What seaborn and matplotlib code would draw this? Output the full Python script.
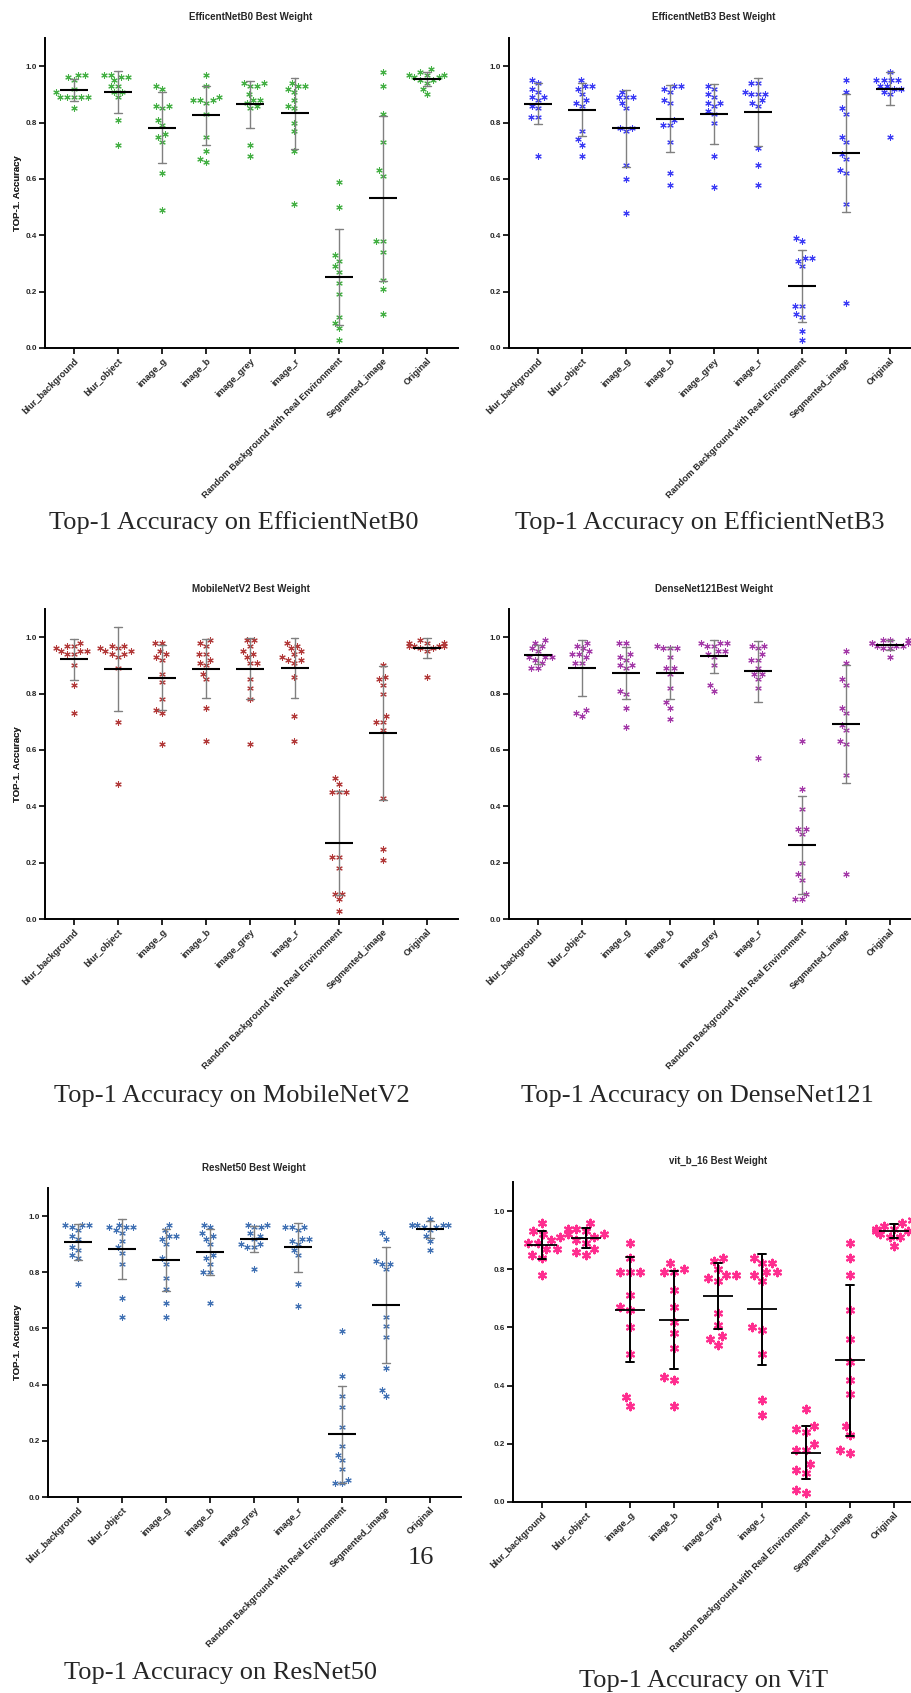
import matplotlib
matplotlib.use("Agg")
import matplotlib.pyplot as plt
import seaborn as sns
import pandas as pd
import numpy as np
import warnings
warnings.filterwarnings("ignore")

# ---------------- data ----------------
categories = ["blur_background", "blur_object", "image_g", "image_b", "image_grey",
              "image_r", "Random Background with Real Environment", "Segmented_image", "Original"]

effb0 = [
    [0.97, 0.96, 0.95, 0.97, 0.92, 0.91, 0.89, 0.89, 0.89, 0.89, 0.89, 0.85],
    [0.97, 0.97, 0.96, 0.96, 0.95, 0.93, 0.93, 0.91, 0.91, 0.89, 0.81, 0.72],
    [0.92, 0.93, 0.86, 0.85, 0.86, 0.81, 0.79, 0.76, 0.75, 0.73, 0.62, 0.49],
    [0.97, 0.93, 0.88, 0.88, 0.88, 0.89, 0.87, 0.83, 0.75, 0.70, 0.66, 0.67],
    [0.94, 0.94, 0.93, 0.93, 0.90, 0.88, 0.88, 0.86, 0.85, 0.87, 0.72, 0.68],
    [0.93, 0.92, 0.94, 0.93, 0.91, 0.88, 0.86, 0.85, 0.80, 0.77, 0.70, 0.51],
    [0.59, 0.50, 0.31, 0.33, 0.27, 0.29, 0.23, 0.19, 0.11, 0.09, 0.07, 0.03],
    [0.98, 0.93, 0.83, 0.73, 0.61, 0.63, 0.38, 0.38, 0.34, 0.24, 0.21, 0.12],
    [0.98, 0.97, 0.97, 0.96, 0.96, 0.95, 0.95, 0.99, 0.97, 0.94, 0.92, 0.90],
]
effb3 = [
    [0.95, 0.94, 0.92, 0.91, 0.89, 0.89, 0.88, 0.86, 0.85, 0.82, 0.82, 0.68],
    [0.95, 0.93, 0.93, 0.92, 0.90, 0.88, 0.87, 0.86, 0.77, 0.74, 0.72, 0.68],
    [0.91, 0.89, 0.89, 0.89, 0.87, 0.85, 0.78, 0.78, 0.77, 0.65, 0.60, 0.48],
    [0.93, 0.93, 0.91, 0.92, 0.87, 0.88, 0.81, 0.79, 0.79, 0.73, 0.62, 0.58],
    [0.93, 0.89, 0.90, 0.92, 0.86, 0.87, 0.87, 0.84, 0.83, 0.80, 0.68, 0.57],
    [0.94, 0.94, 0.90, 0.91, 0.90, 0.90, 0.88, 0.86, 0.87, 0.71, 0.65, 0.58],
    [0.38, 0.39, 0.32, 0.31, 0.32, 0.29, 0.15, 0.15, 0.12, 0.11, 0.06, 0.03],
    [0.95, 0.91, 0.83, 0.85, 0.73, 0.75, 0.67, 0.69, 0.62, 0.63, 0.51, 0.16],
    [0.98, 0.95, 0.95, 0.95, 0.95, 0.93, 0.93, 0.92, 0.92, 0.91, 0.90, 0.75],
]
mobilenetv2 = [
    [0.98, 0.96, 0.97, 0.97, 0.95, 0.94, 0.94, 0.95, 0.95, 0.90, 0.83, 0.73],
    [0.96, 0.97, 0.97, 0.94, 0.94, 0.95, 0.96, 0.93, 0.95, 0.89, 0.70, 0.48],
    [0.98, 0.98, 0.95, 0.93, 0.94, 0.92, 0.87, 0.84, 0.78, 0.74, 0.73, 0.62],
    [0.98, 0.97, 0.99, 0.94, 0.94, 0.91, 0.92, 0.90, 0.87, 0.85, 0.75, 0.63],
    [0.97, 0.99, 0.99, 0.94, 0.95, 0.93, 0.91, 0.91, 0.85, 0.82, 0.78, 0.62],
    [0.96, 0.97, 0.98, 0.93, 0.92, 0.94, 0.95, 0.91, 0.92, 0.86, 0.72, 0.63],
    [0.50, 0.48, 0.45, 0.45, 0.45, 0.22, 0.22, 0.18, 0.09, 0.09, 0.07, 0.03],
    [0.90, 0.85, 0.86, 0.83, 0.80, 0.72, 0.70, 0.70, 0.67, 0.43, 0.25, 0.21],
    [0.98, 0.98, 0.97, 0.97, 0.99, 0.98, 0.97, 0.96, 0.96, 0.95, 0.97, 0.86],
]
densenet121 = [
    [0.99, 0.98, 0.97, 0.96, 0.95, 0.93, 0.93, 0.93, 0.92, 0.91, 0.89, 0.89],
    [0.97, 0.98, 0.94, 0.95, 0.94, 0.96, 0.91, 0.91, 0.93, 0.72, 0.74, 0.73],
    [0.98, 0.98, 0.94, 0.92, 0.93, 0.90, 0.89, 0.90, 0.80, 0.81, 0.75, 0.68],
    [0.96, 0.96, 0.97, 0.96, 0.93, 0.89, 0.89, 0.87, 0.82, 0.77, 0.75, 0.71],
    [0.97, 0.98, 0.98, 0.98, 0.94, 0.97, 0.95, 0.95, 0.93, 0.90, 0.81, 0.83],
    [0.97, 0.97, 0.96, 0.92, 0.94, 0.92, 0.87, 0.89, 0.87, 0.85, 0.82, 0.57],
    [0.63, 0.46, 0.39, 0.32, 0.32, 0.30, 0.20, 0.16, 0.14, 0.09, 0.07, 0.07],
    [0.95, 0.91, 0.83, 0.85, 0.73, 0.75, 0.67, 0.69, 0.62, 0.63, 0.51, 0.16],
    [0.99, 0.98, 0.98, 0.97, 0.97, 0.98, 0.97, 0.96, 0.96, 0.99, 0.99, 0.93],
]
resnet50 = [
    [0.96, 0.95, 0.97, 0.97, 0.97, 0.92, 0.93, 0.88, 0.89, 0.86, 0.85, 0.76],
    [0.95, 0.96, 0.97, 0.96, 0.96, 0.94, 0.89, 0.91, 0.87, 0.83, 0.71, 0.64],
    [0.93, 0.95, 0.97, 0.90, 0.92, 0.93, 0.85, 0.83, 0.78, 0.74, 0.69, 0.64],
    [0.96, 0.97, 0.92, 0.93, 0.94, 0.90, 0.85, 0.86, 0.83, 0.80, 0.80, 0.69],
    [0.97, 0.97, 0.96, 0.96, 0.94, 0.93, 0.92, 0.90, 0.90, 0.89, 0.89, 0.81],
    [0.95, 0.96, 0.96, 0.96, 0.92, 0.91, 0.92, 0.90, 0.86, 0.88, 0.76, 0.68],
    [0.59, 0.43, 0.36, 0.32, 0.25, 0.18, 0.15, 0.13, 0.10, 0.06, 0.05, 0.05],
    [0.92, 0.94, 0.83, 0.84, 0.83, 0.81, 0.64, 0.61, 0.57, 0.46, 0.36, 0.38],
    [0.97, 0.97, 0.97, 0.97, 0.97, 0.99, 0.96, 0.96, 0.95, 0.93, 0.91, 0.88],
]
vit_b_16 = [
    [0.96, 0.93, 0.92, 0.91, 0.90, 0.89, 0.89, 0.87, 0.87, 0.85, 0.84, 0.78],
    [0.96, 0.94, 0.94, 0.93, 0.92, 0.92, 0.91, 0.90, 0.89, 0.87, 0.86, 0.85],
    [0.89, 0.84, 0.79, 0.79, 0.79, 0.71, 0.67, 0.66, 0.60, 0.51, 0.36, 0.33],
    [0.82, 0.79, 0.79, 0.80, 0.73, 0.67, 0.62, 0.58, 0.53, 0.43, 0.42, 0.33],
    [0.83, 0.84, 0.80, 0.77, 0.76, 0.78, 0.78, 0.65, 0.61, 0.57, 0.56, 0.54],
    [0.84, 0.82, 0.82, 0.79, 0.79, 0.78, 0.76, 0.60, 0.59, 0.51, 0.35, 0.30],
    [0.32, 0.24, 0.25, 0.26, 0.20, 0.18, 0.18, 0.13, 0.10, 0.11, 0.03, 0.04],
    [0.89, 0.84, 0.78, 0.66, 0.56, 0.48, 0.42, 0.37, 0.26, 0.23, 0.17, 0.18],
    [0.97, 0.96, 0.95, 0.94, 0.94, 0.93, 0.93, 0.93, 0.92, 0.91, 0.91, 0.88],
]

panel_titles = ["EfficentNetB0 Best Weight", "EfficentNetB3 Best Weight",
                "MobileNetV2 Best Weight", "DenseNet121Best Weight",
                "ResNet50 Best Weight", "vit_b_16 Best Weight"]
captions = ["Top-1 Accuracy on EfficientNetB0", "Top-1 Accuracy on EfficientNetB3",
            "Top-1 Accuracy on MobileNetV2", "Top-1 Accuracy on DenseNet121",
            "Top-1 Accuracy on ResNet50", "Top-1 Accuracy on ViT"]
colors = ["#45b045", "#3c3cf5", "#b23a3a", "#a43aa8", "#4272b4", "#ff2d8f"]
ylabel = "TOP-1. Accuracy"
page_number = "16"
datasets = [effb0, effb3, mobilenetv2, densenet121, resnet50, vit_b_16]

# ---------------- layout (pixels) ----------------
W, H = 911, 1693
# left, right, top, bottom, first tick x, tick spacing
layout = [
    (45, 458, 38, 348, 74, 44.1),
    (509, 911, 38, 348, 538, 44.0),
    (45, 458, 609, 919, 74, 44.1),
    (509, 911, 609, 919, 538, 44.0),
    (48, 461, 1188, 1497, 78, 44.0),
    (513, 911, 1182, 1502, 542, 44.0),
]
title_pos = [(251, 17), (714, 17), (251, 589), (714, 589), (254, 1168), (718, 1161)]
caption_pos = [(234, 523), (700, 523), (232, 1096), (697, 1096), (221, 1673), (704, 1681)]
page_pos = (421, 1558)

sns.set_theme(style="ticks")
plt.rcParams["font.family"] = ["Liberation Sans", "DejaVu Sans"]

fig = plt.figure(figsize=(W / 100, H / 100), dpi=100)

for i, (vals, color) in enumerate(zip(datasets, colors)):
    l, r, t, b, x0, dx = layout[i]
    ax = fig.add_axes([l / W, 1 - b / H, (r - l) / W, (b - t) / H])
    df = pd.DataFrame({
        "cat": np.repeat(categories, [len(v) for v in vals]),
        "val": np.concatenate(vals),
    })
    is_vit = (i == 5)
    sns.swarmplot(data=df, x="cat", y="val", order=categories, ax=ax,
                  color=color, marker=(6, 2, 0), size=5.4 if is_vit else 4.0,
                  linewidth=1.6 if is_vit else 0.8, zorder=2)
    sns.pointplot(data=df, x="cat", y="val", order=categories, ax=ax,
                  errorbar="sd", color="black", marker="_",
                  markersize=21 if is_vit else 19.5,
                  markeredgewidth=1.3 if is_vit else 1.5,
                  linestyle="none", capsize=0.18,
                  err_kws={"color": "black" if is_vit else "#808080",
                           "linewidth": 1.4 if is_vit else 1.0, "zorder": 3},
                  zorder=4)
    ax.set_xlim(-(x0 - l) / dx, (r - x0) / dx)
    ax.set_ylim(0, 1.1)
    ax.set_yticks([0.0, 0.2, 0.4, 0.6, 0.8, 1.0])
    ax.set_yticklabels([f"{v:.1f}" for v in [0.0, 0.2, 0.4, 0.6, 0.8, 1.0]],
                       fontsize=5.8, fontweight="bold")
    ax.set_xticks(range(len(categories)))
    ax.set_xticklabels(categories, rotation=45, ha="right", rotation_mode="anchor",
                       fontsize=6.6, fontweight="bold")
    ax.set_xlabel("")
    ax.set_ylabel(ylabel, fontsize=6.8, fontweight="bold")
    ax.yaxis.set_label_coords(-(l - 22) / (r - l), 0.5)
    for s in ["left", "bottom"]:
        ax.spines[s].set_linewidth(1.4)
        ax.spines[s].set_color("black")
    sns.despine(ax=ax)
    ax.tick_params(axis="both", length=4, width=1.2, color="black", pad=2)
    ax.set_facecolor("none")

    tx, ty = title_pos[i]
    fig.text(tx / W, 1 - ty / H, panel_titles[i], ha="center", va="center",
             fontsize=7, fontweight="bold")
    cx, cy = caption_pos[i]
    fig.text(cx / W, 1 - cy / H, captions[i], ha="center", va="center",
             fontsize=19, family=["Liberation Serif", "DejaVu Serif"])

fig.text(page_pos[0] / W, 1 - page_pos[1] / H, page_number, ha="center", va="center",
         fontsize=19, family=["Liberation Serif", "DejaVu Serif"])

fig.savefig("out.png", dpi=100)
